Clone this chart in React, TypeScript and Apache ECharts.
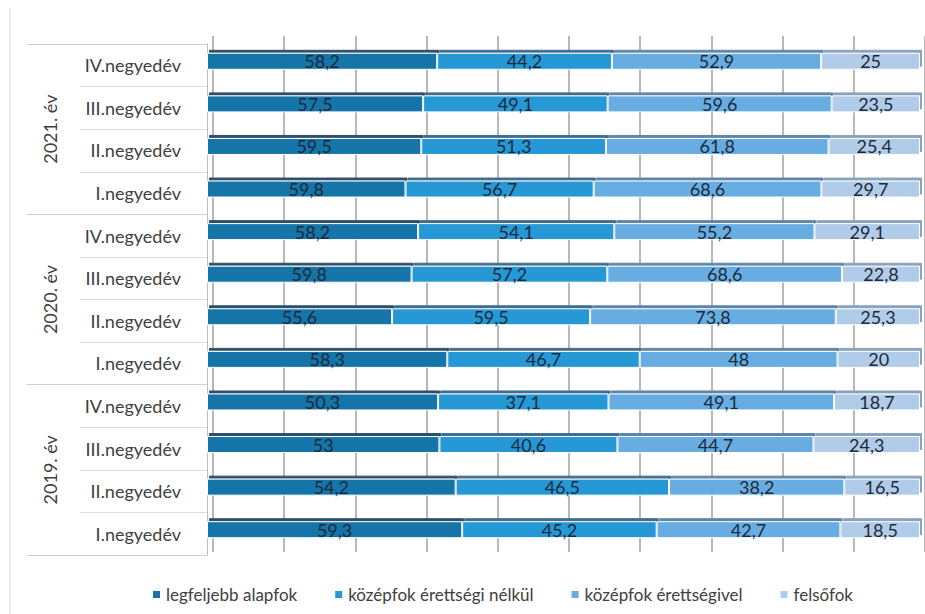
import React, { useEffect, useRef } from "react";
import * as echarts from "echarts";

const quarters = ["I.negyedév", "II.negyedév", "III.negyedév", "IV.negyedév"];
const years = ["2019. év", "2020. év", "2021. év"];
const seriesNames = [
  "legfeljebb alapfok",
  "középfok érettségi nélkül",
  "középfok érettségivel",
  "felsőfok",
];
// order: 2019 I..IV, 2020 I..IV, 2021 I..IV (bottom to top)
const alapfok = [59.3, 54.2, 53, 50.3, 58.3, 55.6, 59.8, 58.2, 59.8, 59.5, 57.5, 58.2];
const erettsegiNelkul = [45.2, 46.5, 40.6, 37.1, 46.7, 59.5, 57.2, 54.1, 56.7, 51.3, 49.1, 44.2];
const erettsegivel = [42.7, 38.2, 44.7, 49.1, 48, 73.8, 68.6, 55.2, 68.6, 61.8, 59.6, 52.9];
const felsofok = [18.5, 16.5, 24.3, 18.7, 20, 25.3, 22.8, 29.1, 29.7, 25.4, 23.5, 25];
const colors = ["#1874a8", "#2598d6", "#68ade2", "#b1cce9"];
const topEdge = ["#2f4f6a", "#3f6d8f", "#5f86a8", "#8aa3bd"];

const FONT = "Lato, 'Open Sans', sans-serif";

export default function App() {
  const ref = useRef<HTMLDivElement>(null);
  useEffect(() => {
    if (!ref.current) return;
    const chart = echarts.init(ref.current, undefined, { renderer: "svg" });
    const all = [alapfok, erettsegiNelkul, erettsegivel, felsofok];
    const totals = alapfok.map((_, i) => all.reduce((s, a) => s + a[i], 0));
    const categories = years.flatMap(() => quarters);
    const series = all.map((arr, si) => ({
      name: seriesNames[si],
      type: "bar",
      stack: "total",
      barWidth: 17,
      xAxisIndex: 1,
      yAxisIndex: 2,
      itemStyle: {
        color: colors[si],
        borderColor: "#ffffff",
        borderWidth: 1,
        shadowColor: topEdge[si],
        shadowOffsetY: -3,
        shadowOffsetX: 2,
        shadowBlur: 0,
      },
      label: {
        show: true,
        position: "inside",
        color: "#1d2a3a",
        fontSize: 18,
        fontFamily: FONT,
        formatter: (p: any) => String(arr[p.dataIndex]).replace(".", ","),
      },
      data: arr.map((v, i) => (v / totals[i]) * 100),
    }));
    const hiddenValueAxis = (gi: number, split: boolean) => ({
      type: "value",
      gridIndex: gi,
      min: 0,
      max: 100,
      interval: 10,
      axisLabel: { show: false },
      axisLine: { show: false },
      axisTick: { show: false },
      splitLine: { show: split, lineStyle: { color: "#a0a0a0", width: 1.5 } },
    });
    chart.setOption({
      animation: false,
      textStyle: { fontFamily: FONT },
      grid: [
        { left: 207, right: 5, top: 44, bottom: 59 },
        { left: 207, right: 5, top: 40, bottom: 63 },
        { left: 213, right: -1, top: 36, bottom: 62 },
      ],
      legend: {
        bottom: 6,
        left: 146,
        icon: "rect",
        itemWidth: 9,
        itemHeight: 9,
        itemGap: 36,
        textStyle: { fontSize: 17, color: "#404040", fontFamily: FONT },
        data: seriesNames,
      },
      xAxis: [hiddenValueAxis(0, false), hiddenValueAxis(1, false), hiddenValueAxis(2, true)],
      yAxis: [
        {
          type: "category",
          gridIndex: 0,
          data: categories,
          axisLine: { show: true, lineStyle: { color: "#bfbfbf" } },
          axisTick: { show: true, length: 127, lineStyle: { color: "#dcdcdc" } },
          axisLabel: { color: "#404040", fontSize: 18, margin: 26, fontFamily: FONT },
        },
        {
          type: "category",
          gridIndex: 0,
          data: years,
          position: "left",
          axisLine: { show: false },
          axisTick: { show: true, length: 180, lineStyle: { color: "#d0d0d0" } },
          axisLabel: { color: "#404040", fontSize: 18, rotate: 90, margin: 148, fontFamily: FONT },
        },
        {
          type: "category",
          gridIndex: 1,
          data: categories,
          axisLine: { show: false },
          axisTick: { show: false },
          axisLabel: { show: false },
        },
        {
          type: "category",
          gridIndex: 2,
          data: categories,
          axisLine: { show: false },
          axisTick: { show: false },
          axisLabel: { show: false },
        },
      ],
      graphic: [
        {
          type: "line",
          shape: { x1: 10, y1: 8, x2: 10, y2: 614 },
          style: { stroke: "#d9d9d9", lineWidth: 1 },
        },
      ],
      series,
    });
    return () => chart.dispose();
  }, []);
  return (
    <div
      ref={ref}
      style={{ position: "fixed", left: 0, top: 0, width: 925, height: 614, background: "#fff" }}
    />
  );
}
